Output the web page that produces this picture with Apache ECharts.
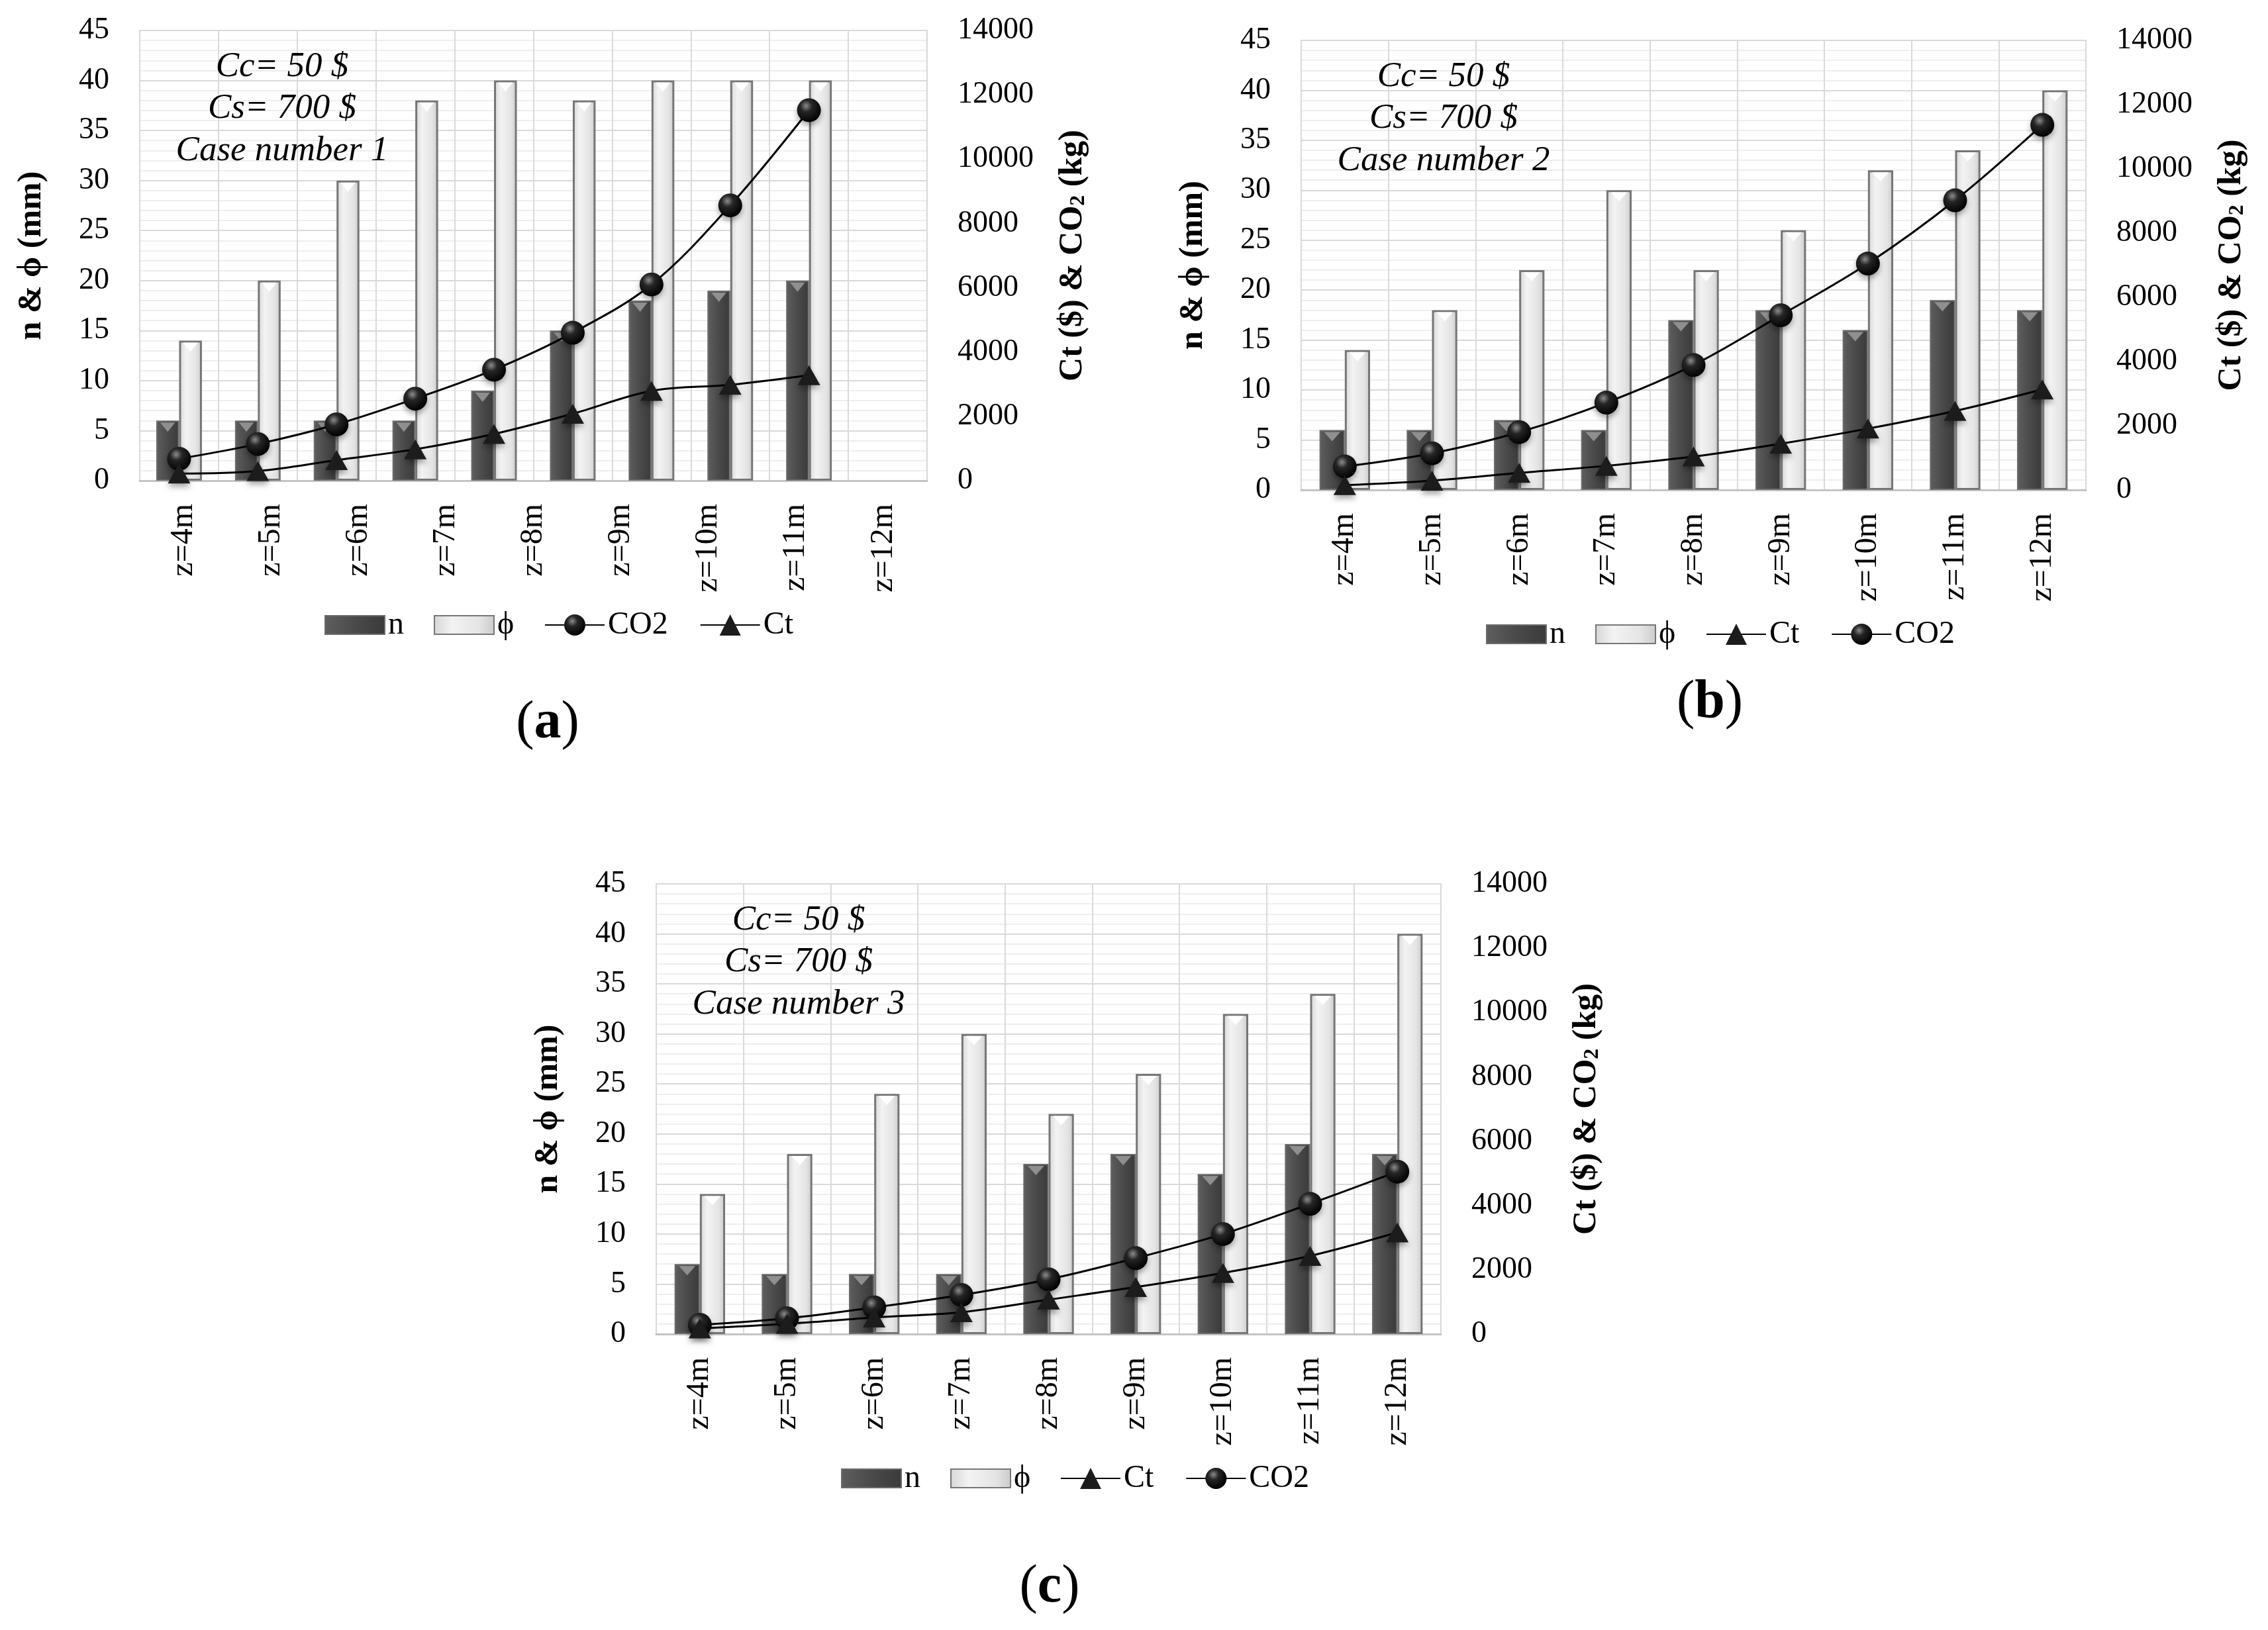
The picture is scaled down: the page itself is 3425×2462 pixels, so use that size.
<!DOCTYPE html>
<html>
<head>
<meta charset="utf-8">
<script src="https://cdn.jsdelivr.net/npm/echarts@6/dist/echarts.min.js"></script>
<style>
html, body { margin: 0; padding: 0; background: #fff; }
#main { width: 3425px; height: 2462px; }
</style>
</head>
<body>
<div id="main"></div>
<script>
// x categories (tick labels)
var categories = ['z=4m', 'z=5m', 'z=6m', 'z=7m', 'z=8m', 'z=9m', 'z=10m', 'z=11m', 'z=12m'];
// panel (a) plots its bars on 10 slots, the last one empty
var slotsA = categories.concat(['']);

// case 1
var nA   = [6, 6, 6, 6, 9, 15, 18, 19, 20, null];
var phiA = [14, 20, 30, 38, 40, 38, 40, 40, 40, null];
var co2A = [680, 1140, 1750, 2550, 3450, 4600, 6100, 8560, 11520, null];
var ctA  = [220, 300, 640, 975, 1450, 2080, 2790, 2980, 3280, null];

// case 2
var nB   = [6, 6, 7, 6, 17, 18, 16, 19, 18];
var phiB = [14, 18, 22, 30, 22, 26, 32, 34, 40];
var co2B = [730, 1140, 1800, 2720, 3890, 5440, 7050, 9020, 11370];
var ctB  = [150, 290, 530, 750, 1040, 1440, 1910, 2460, 3130];

// case 3
var nC   = [7, 6, 6, 6, 17, 18, 16, 19, 18];
var phiC = [14, 18, 24, 30, 22, 26, 32, 34, 40];
var co2C = [290, 490, 830, 1215, 1700, 2360, 3110, 4050, 5050];
var ctC  = [175, 320, 515, 680, 1070, 1460, 1900, 2430, 3160];

var SERIF = "'Liberation Serif', 'Times New Roman', 'DejaVu Serif', serif";

var panels = [
  { grid: { left: 211, top: 46, width: 1189, height: 680 }, slots: slotsA, labels: categories,
    n: nA, phi: phiA, co2: co2A, ct: ctA, lines: ['CO2', 'Ct'],
    barLegendLeft: 490, lineLegendLeft: 822, legendTop: 920,
    note: 'Case number 1', tag: 'a', tagPos: [827, 1093] },
  { grid: { left: 1965, top: 61, width: 1185, height: 679 }, slots: categories, labels: categories,
    n: nB, phi: phiB, co2: co2B, ct: ctB, lines: ['Ct', 'CO2'],
    barLegendLeft: 2244, lineLegendLeft: 2576, legendTop: 934,
    note: 'Case number 2', tag: 'b', tagPos: [2582, 1062] },
  { grid: { left: 991, top: 1335, width: 1185, height: 680 }, slots: categories, labels: categories,
    n: nC, phi: phiC, co2: co2C, ct: ctC, lines: ['Ct', 'CO2'],
    barLegendLeft: 1270, lineLegendLeft: 1601, legendTop: 2209,
    note: 'Case number 3', tag: 'c', tagPos: [1585, 2398] }
];

var darkBar = {
  type: 'linear', x: 0, y: 0, x2: 1, y2: 0,
  colorStops: [{ offset: 0, color: '#5e5e5e' }, { offset: 0.5, color: '#4a4a4a' }, { offset: 1, color: '#3a3a3a' }]
};
var lightBar = {
  type: 'linear', x: 0, y: 0, x2: 1, y2: 0,
  colorStops: [{ offset: 0, color: '#d6d6d6' }, { offset: 0.3, color: '#f3f3f3' }, { offset: 0.75, color: '#e4e4e4' }, { offset: 1, color: '#cbcbcb' }]
};
var ball = {
  type: 'radial', x: 0.38, y: 0.32, r: 0.7,
  colorStops: [{ offset: 0, color: '#8c8c8c' }, { offset: 0.35, color: '#262626' }, { offset: 1, color: '#000' }]
};

var BAR_RATIO = 0.29;
var xLabel = { show: true, interval: 0, rotate: 90, margin: 35, color: '#000', fontSize: 48, fontFamily: SERIF };
var yLabel = { color: '#000', fontSize: 46, fontFamily: SERIF, margin: 46, formatter: function (v) { return String(v); } };
var legendText = { color: '#000', fontSize: 48, fontFamily: SERIF };

var option = {
  backgroundColor: '#fff',
  animation: false,
  grid: [], xAxis: [], yAxis: [], series: [], legend: [], graphic: []
};

panels.forEach(function (p, i) {
  var g = p.grid;
  option.grid.push({ left: g.left, top: g.top, width: g.width, height: g.height, containLabel: false, outerBoundsMode: 'none' });

  var split = p.slots !== p.labels;
  var xi = option.xAxis.length;
  option.xAxis.push({
    gridIndex: i, type: 'category', data: p.slots, position: 'bottom',
    axisLine: { show: true, lineStyle: { color: '#c4c4c4', width: 3 } },
    axisTick: { show: false },
    axisLabel: split ? { show: false } : xLabel,
    splitLine: { show: true, interval: 0, lineStyle: { color: '#dadada', width: 2 } }
  });
  if (split) {
    option.xAxis.push({
      gridIndex: i, type: 'category', data: p.labels, position: 'bottom',
      axisLine: { show: false }, axisTick: { show: false }, splitLine: { show: false },
      axisLabel: xLabel
    });
  }

  var yi = option.yAxis.length;
  option.yAxis.push({
    gridIndex: i, type: 'value', position: 'left', min: 0, max: 45, interval: 5,
    name: 'n & ϕ (mm)', nameLocation: 'middle', nameGap: 138,
    nameTextStyle: { color: '#000', fontSize: 50, fontWeight: 'bold', fontFamily: SERIF },
    axisLine: { show: true, lineStyle: { color: '#d9d9d9', width: 2 } },
    axisTick: { show: false },
    axisLabel: yLabel,
    splitLine: { show: true, lineStyle: { color: '#d9d9d9', width: 2 } },
    minorTick: { show: false, splitNumber: 5 },
    minorSplitLine: { show: true, lineStyle: { color: '#eeeeee', width: 2 } }
  });
  option.yAxis.push({
    gridIndex: i, type: 'value', position: 'right', min: 0, max: 14000, interval: 2000,
    name: 'Ct ($) & CO{s|2} (kg)', nameLocation: 'middle', nameGap: 195,
    nameTextStyle: {
      color: '#000', fontSize: 50, fontWeight: 'bold', fontFamily: SERIF,
      rich: { s: { fontSize: 32, fontWeight: 'bold', fontFamily: SERIF, color: '#000', verticalAlign: 'bottom' } }
    },
    axisLine: { show: true, lineStyle: { color: '#d9d9d9', width: 2 } },
    axisTick: { show: false },
    axisLabel: yLabel,
    splitLine: { show: false }
  });

  option.series.push({
    type: 'bar', name: 'n', xAxisIndex: xi, yAxisIndex: yi, data: p.n,
    barWidth: BAR_RATIO * 100 + '%', barGap: '0%',
    itemStyle: { color: darkBar, borderColor: '#6c6c6c', borderWidth: 2 }
  });
  option.series.push({
    type: 'bar', name: 'ϕ', xAxisIndex: xi, yAxisIndex: yi, data: p.phi,
    barWidth: BAR_RATIO * 100 + '%', barGap: '0%',
    itemStyle: { color: lightBar, borderColor: '#767676', borderWidth: 3 }
  });

  // bevel highlight at the top of each bar
  var half = g.width / p.slots.length * BAR_RATIO / 2;
  option.series.push({
    type: 'scatter', name: 'n-bevel', xAxisIndex: xi, yAxisIndex: yi, data: p.n, silent: true,
    symbol: 'triangle', symbolRotate: 180, symbolSize: [half * 1.3, 14], symbolOffset: [-half, 10], z: 3,
    itemStyle: { color: '#8f8f8f', opacity: 1 }
  });
  option.series.push({
    type: 'scatter', name: 'ϕ-bevel', xAxisIndex: xi, yAxisIndex: yi, data: p.phi, silent: true,
    symbol: 'triangle', symbolRotate: 180, symbolSize: [half * 1.3, 14], symbolOffset: [half, 10], z: 3,
    itemStyle: { color: '#ffffff', opacity: 1 }
  });

  option.series.push({
    type: 'line', name: 'CO2', xAxisIndex: xi, yAxisIndex: yi + 1, data: p.co2,
    smooth: 0.35, symbol: 'circle', symbolSize: 36, z: 5,
    lineStyle: { color: '#000', width: 3 },
    itemStyle: { color: ball, shadowColor: 'rgba(0,0,0,0.35)', shadowBlur: 8, shadowOffsetY: 5 }
  });
  option.series.push({
    type: 'line', name: 'Ct', xAxisIndex: xi, yAxisIndex: yi + 1, data: p.ct,
    smooth: 0.35, symbol: 'triangle', symbolSize: [34, 30], z: 5,
    lineStyle: { color: '#000', width: 3 },
    itemStyle: { color: '#1c1c1c', shadowColor: 'rgba(0,0,0,0.35)', shadowBlur: 8, shadowOffsetY: 5 }
  });

  option.legend.push({
    left: p.barLegendLeft, top: p.legendTop, orient: 'horizontal', padding: 0,
    itemWidth: 90, itemHeight: 28, itemGap: 45, selectedMode: false,
    textStyle: legendText,
    data: [{ name: 'n', icon: 'rect' }, { name: 'ϕ', icon: 'rect' }]
  });
  option.legend.push({
    left: p.lineLegendLeft, top: p.legendTop, orient: 'horizontal', padding: 0,
    itemWidth: 90, itemHeight: 40, itemGap: 48, selectedMode: false,
    textStyle: legendText,
    data: p.lines
  });

  var notes = ['Cc= 50 $', 'Cs= 700 $', p.note];
  var dy = [55, 118, 182];
  notes.forEach(function (t, k) {
    option.graphic.push({
      type: 'text', x: g.left + 215, y: g.top + dy[k], z: 10,
      style: { text: t, fill: '#000', fontSize: 53, fontStyle: 'italic', fontFamily: SERIF,
               align: 'center', verticalAlign: 'middle', textAlign: 'center', textVerticalAlign: 'middle' }
    });
  });
  option.graphic.push({
    type: 'text', x: p.tagPos[0], y: p.tagPos[1],
    style: {
      text: '{p|(}{b|' + p.tag + '}{p|)}', fill: '#000',
      align: 'center', verticalAlign: 'middle', textAlign: 'center', textVerticalAlign: 'middle',
      rich: {
        p: { fontSize: 82, fontFamily: SERIF, fill: '#000' },
        b: { fontSize: 82, fontFamily: SERIF, fontWeight: 'bold', fill: '#000' }
      }
    }
  });
});

var chart = echarts.init(document.getElementById('main'));
chart.setOption(option);
</script>
</body>
</html>
